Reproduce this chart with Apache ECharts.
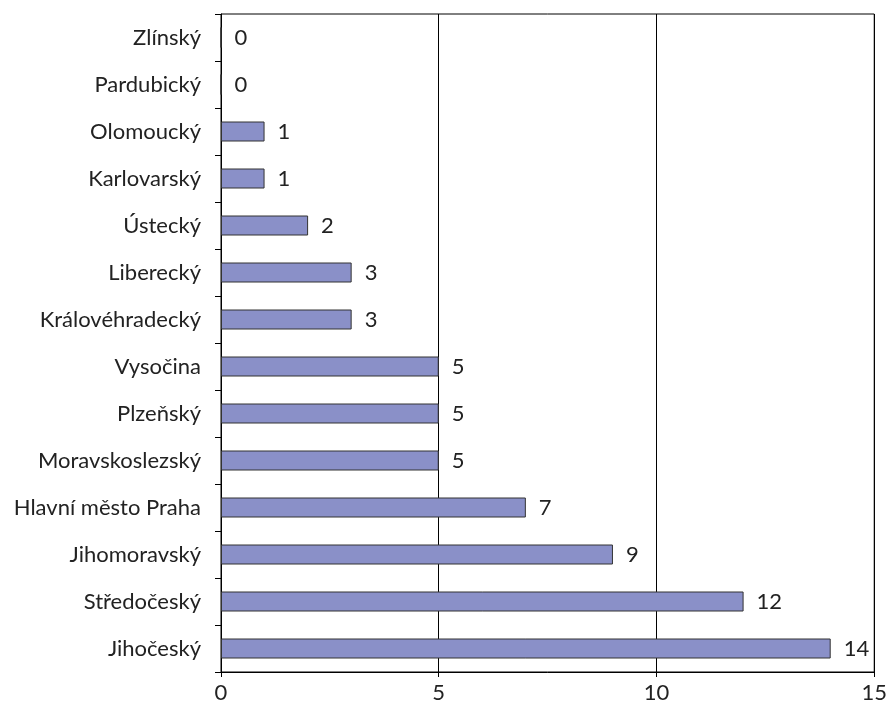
<!DOCTYPE html>
<html><head><meta charset="utf-8">
<script src="https://cdn.jsdelivr.net/npm/echarts@6/dist/echarts.min.js"></script>
<style>html,body{margin:0;padding:0;background:#fff}#c{width:890px;height:713px}</style>
</head><body><div id="c"></div>
<script>
const categories = ["Jihočeský","Středočeský","Jihomoravský","Hlavní město Praha","Moravskoslezský","Plzeňský","Vysočina","Královéhradecký","Liberecký","Ústecký","Karlovarský","Olomoucký","Pardubický","Zlínský"];
const values = [14,12,9,7,5,5,5,3,3,2,1,1,0,0];
const xTicks = [0,5,10,15];
const font = "Lato, 'Open Sans', sans-serif";
const chart = echarts.init(document.getElementById('c'));
chart.setOption({
  animation:false,
  grid:{left:221,right:13,top:14,bottom:41,show:true,borderColor:'#000',borderWidth:1},
  xAxis:{type:'value',min:0,max:15,interval:5,
    axisLine:{show:true,lineStyle:{color:'#000'}},
    axisTick:{show:true,length:5,lineStyle:{color:'#000'}},
    splitLine:{show:true,lineStyle:{color:'#000',width:1}},
    axisLabel:{color:'#222',fontSize:22,fontFamily:font,margin:10,formatter:v=>xTicks.includes(v)?String(v):''}},
  yAxis:{type:'category',data:categories,
    axisLine:{show:true,lineStyle:{color:'#000'}},
    axisTick:{show:true,length:6,lineStyle:{color:'#000'}},
    axisLabel:{color:'#222',fontSize:22,fontFamily:font,margin:20}},
  series:[{type:'bar',data:values,barWidth:20,
    itemStyle:{color:'#8a90c8',borderColor:'#333',borderWidth:1},
    label:{show:true,position:'right',distance:13,color:'#222',fontSize:22,fontFamily:font}}]
});
</script></body></html>
